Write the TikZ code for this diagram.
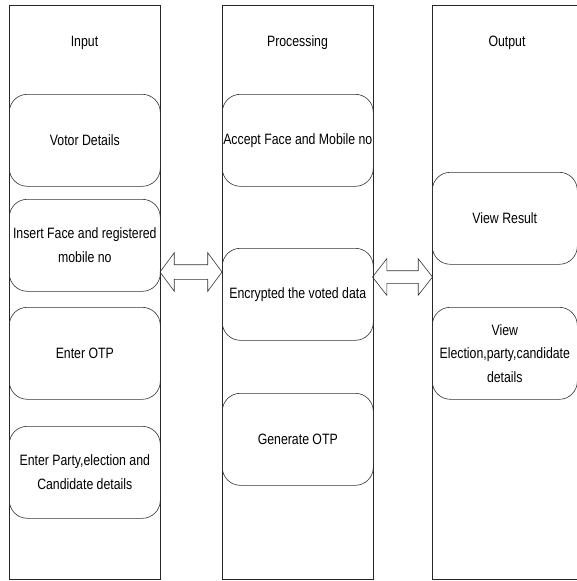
\documentclass[tikz,border=0pt]{standalone}
\usepackage{fontspec}
\setmainfont{Liberation Sans}[FakeStretch=0.82]
\usetikzlibrary{positioning, shapes.arrows}

\begin{document}
\begin{tikzpicture}[
    x=1pt, y=-1pt,
    font=\fontsize{15}{23.5}\selectfont,
    lane/.style={
        draw=black!85, line width=0.8pt, anchor=north west,
        minimum height=574pt, inner sep=0pt,
    },
    title/.style={inner sep=0pt},
    step box/.style={
        draw=black!80, line width=0.6pt, rounded corners=18pt,
        minimum height=92pt, inner sep=0pt, align=center,
        anchor=north west,
    },
    flow/.style={
        draw=black!80, line width=0.6pt, double arrow,
        inner sep=0pt, double arrow head indent=0pt,
        double arrow head extend=12pt,
    },
]

% lane boxes
\useasboundingbox (0,0) rectangle (576,581);
\node[lane, minimum width=151pt] (inlane)   at (9,5)   {};
\node[lane, minimum width=151pt] (proclane) at (222,5) {};
\node[lane, minimum width=145pt] (outlane)  at (432,5) {};

% titles
\node[title] (intitle)   at (84.5,43)  {Input};
\node[title] (proctitle) at (297.5,43) {Processing};
\node[title] (outtitle)  at (507,43)   {Output};

% input steps
\node[step box, minimum width=151pt] (votor)  at (9,94)  {Votor Details};
\node[step box, minimum width=151pt] (face)   at (9,199) {Insert Face and registered\\mobile no};
\node[step box, minimum width=151pt] (otp)    at (9,307) {Enter OTP};
\node[step box, minimum width=151pt] (party)  at (9,426) {Enter Party,election and\\Candidate details};

% processing steps
\node[step box, minimum width=151pt] (accept)  at (222,94)  {Accept Face and Mobile no};
\node[step box, minimum width=151pt] (encrypt) at (222,248) {Encrypted the voted data};
\node[step box, minimum width=151pt] (genotp)  at (222,393) {Generate OTP};

% output steps
\node[step box, minimum width=145pt] (result)  at (432,172) {View Result};
\node[step box, minimum width=145pt] (details) at (432,307) {View\\Election,party,candidate\\details};

% two-way flows
\node[flow, minimum height=62pt, double arrow tip angle=107] (flowA) at (191,272) {\rule{0pt}{14pt}};
\node[flow, minimum height=60pt, double arrow tip angle=104] (flowB) at (402.5,277) {\rule{0pt}{12pt}};

\end{tikzpicture}
\end{document}
